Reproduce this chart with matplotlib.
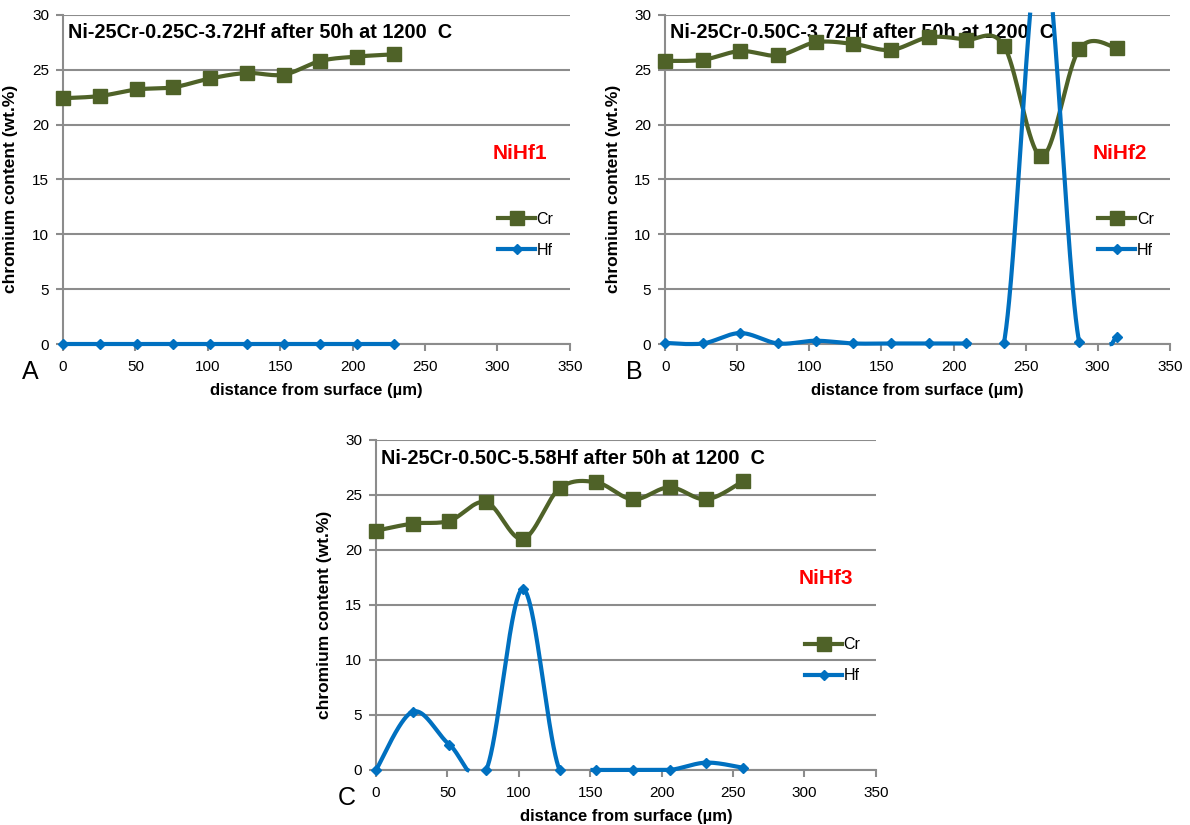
import numpy as np
import matplotlib
matplotlib.use("Agg")
import matplotlib.pyplot as plt

plt.rcParams['font.family'] = ['Liberation Sans', 'DejaVu Sans']

# ---- data ----
dist_a = [0, 25.4, 50.8, 76.2, 101.6, 127, 152.4, 177.8, 203.2, 228.6]
cr_a = [22.4, 22.6, 23.2, 23.4, 24.2, 24.7, 24.55, 25.8, 26.2, 26.4]
hf_a = [0, 0, 0, 0, 0, 0, 0, 0, 0, 0]

dist_b = [0, 26.1, 52.2, 78.3, 104.4, 130.5, 156.6, 182.7, 208.8, 234.9, 261, 287.1, 313.2]
cr_b = [25.8, 25.9, 26.7, 26.3, 27.5, 27.35, 26.8, 27.95, 27.75, 27.2, 17.1, 26.85, 27.0]
hf_b = [0.1, 0.05, 1.0, 0.05, 0.3, 0.05, 0.05, 0.05, 0.05, 0.05, 37.0, 0.2, 0.6]

dist_c = [0, 25.7, 51.4, 77.1, 102.8, 128.5, 154.2, 179.9, 205.6, 231.3, 257]
cr_c = [21.75, 22.4, 22.65, 24.35, 21.0, 25.6, 26.15, 24.6, 25.7, 24.6, 26.25]
hf_c = [0, 5.3, 2.3, 0, 16.45, 0, 0, 0, 0, 0.67, 0.2]

titles = ["Ni-25Cr-0.25C-3.72Hf after 50h at 1200  C",
          "Ni-25Cr-0.50C-3.72Hf after 50h at 1200  C",
          "Ni-25Cr-0.50C-5.58Hf after 50h at 1200  C"]
tags = ["NiHf1", "NiHf2", "NiHf3"]
letters = ["A", "B", "C"]

CR_COL = '#4f6228'
HF_COL = '#0070c0'
GRID = '#8c8c8c'


def excel_smooth(x, y, n=80):
    # Excel style smoothed line (Catmull-Rom bezier), clipped to 0..30
    x = np.asarray(x, float)
    y = np.asarray(y, float)
    xs, ys = [], []
    t = np.linspace(0, 1, n)
    for i in range(len(x) - 1):
        p0 = max(i - 1, 0)
        p3 = min(i + 2, len(x) - 1)
        c1x = x[i] + (x[i + 1] - x[p0]) / 6
        c1y = y[i] + (y[i + 1] - y[p0]) / 6
        c2x = x[i + 1] - (x[p3] - x[i]) / 6
        c2y = y[i + 1] - (y[p3] - y[i]) / 6
        b0 = (1 - t) ** 3
        b1 = 3 * t * (1 - t) ** 2
        b2 = 3 * t ** 2 * (1 - t)
        b3 = t ** 3
        xs.append(b0 * x[i] + b1 * c1x + b2 * c2x + b3 * x[i + 1])
        ys.append(b0 * y[i] + b1 * c1y + b2 * c2y + b3 * y[i + 1])
    xs = np.concatenate(xs)
    ys = np.concatenate(ys)
    ys = np.where((ys < 0) & (ys > -0.08), 0, ys)
    ys = np.where((ys < -0.08) | (ys > 30.2), np.nan, ys)
    return xs, ys


def panel(ax, x, cr, hf, title, tag):
    sx, sy = excel_smooth(x, cr)
    ax.plot(sx, sy, color=CR_COL, lw=3, clip_on=False, zorder=3)
    ax.plot(x, cr, ls='none', marker='s', ms=9.5, color=CR_COL, clip_on=False, zorder=4)
    sx, sy = excel_smooth(x, hf)
    ax.plot(sx, sy, color=HF_COL, lw=3, clip_on=False, zorder=3)
    hf_pts = np.array(hf, float)
    hf_pts = np.where(hf_pts > 30, np.nan, hf_pts)
    ax.plot(x, hf_pts, ls='none', marker='D', ms=5.5, color=HF_COL, clip_on=False, zorder=4)
    # legend proxies
    ax.plot([], [], color=CR_COL, lw=3, marker='s', ms=9.5, label='Cr')
    ax.plot([], [], color=HF_COL, lw=3, marker='D', ms=5.5, label='Hf')

    ax.set_xlim(0, 350)
    ax.set_ylim(0, 30)
    ax.set_xticks(np.arange(0, 351, 50))
    ax.set_yticks(np.arange(0, 31, 5))
    ax.grid(axis='y', color=GRID, lw=1.5)
    ax.set_axisbelow(True)
    for s in ['top', 'right']:
        ax.spines[s].set_visible(False)
    for s in ['left', 'bottom']:
        ax.spines[s].set_color(GRID)
        ax.spines[s].set_linewidth(1.5)
    ax.tick_params(axis='both', colors=GRID, width=1.5, length=5, labelsize=11,
                   labelcolor='black')
    ax.tick_params(axis='x', pad=6.5)
    ax.tick_params(axis='y', pad=5)
    ax.set_xlabel('distance from surface (µm)', fontsize=12, fontweight='bold')
    ax.set_ylabel('chromium content (wt.%)', fontsize=12.5, fontweight='bold')
    ax.xaxis.set_label_coords(0.5, -0.118)
    ax.yaxis.set_label_coords(-0.088, 0.47)

    ax.text(0.01, 0.945, title, transform=ax.transAxes, fontsize=14.3,
            fontweight='bold', ha='left', va='center', zorder=1)
    ax.text(0.901, 0.58, tag, transform=ax.transAxes, fontsize=15,
            fontweight='bold', color='#ff0000', ha='center', va='center')
    ax.legend(loc='upper left', bbox_to_anchor=(0.846, 0.421), frameon=False,
              fontsize=11.5, handlelength=2.3, handletextpad=0.1,
              labelspacing=1.0, borderaxespad=0)


fig = plt.figure(figsize=(11.9, 8.25), dpi=100)
ax_a = fig.add_axes([0.0529, 0.583, 0.426, 0.399])
ax_b = fig.add_axes([0.559, 0.583, 0.424, 0.399])
ax_c = fig.add_axes([0.316, 0.0667, 0.420, 0.400])

panel(ax_a, dist_a, cr_a, hf_a, titles[0], tags[0])
panel(ax_b, dist_b, cr_b, hf_b, titles[1], tags[1])
panel(ax_c, dist_c, cr_c, hf_c, titles[2], tags[2])

fig.text(0.0185, 0.549, letters[0], fontsize=18, ha='left', va='center')
fig.text(0.526, 0.549, letters[1], fontsize=18, ha='left', va='center')
fig.text(0.284, 0.033, letters[2], fontsize=18, ha='left', va='center')

plt.savefig('out.png', dpi=100)
